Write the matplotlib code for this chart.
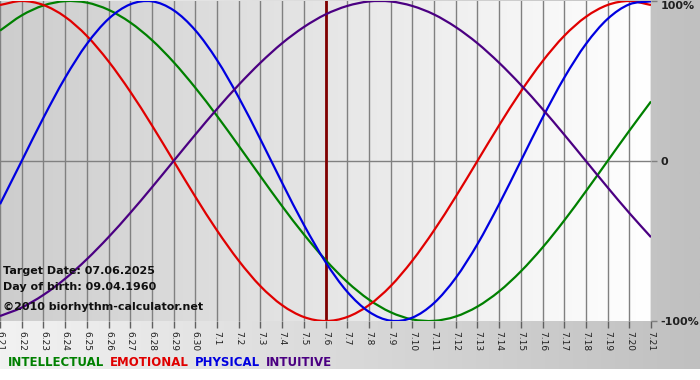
import matplotlib.pyplot as plt
import numpy as np
from matplotlib.colors import LinearSegmentedColormap
from matplotlib.path import Path
from matplotlib.patches import PathPatch

# day labels (month.day), 30 days around the target date
days = ['6.21', '6.22', '6.23', '6.24', '6.25', '6.26', '6.27', '6.28', '6.29', '6.30',
        '7.1', '7.2', '7.3', '7.4', '7.5', '7.6', '7.7', '7.8', '7.9', '7.10',
        '7.11', '7.12', '7.13', '7.14', '7.15', '7.16', '7.17', '7.18', '7.19', '7.20', '7.21']
target_day = '7.6'

# cycle values per day (-1 .. 1)
intellectual = [0.815, 0.910, 0.972, 0.999, 0.990, 0.945, 0.866, 0.756, 0.618, 0.458,
                0.282, 0.095, -0.095, -0.282, -0.458, -0.618, -0.756, -0.866, -0.945,
                -0.990, -0.999, -0.972, -0.910, -0.815, -0.690, -0.541, -0.372, -0.189,
                0.000, 0.189, 0.372]
emotional = [0.975, 1.000, 0.975, 0.901, 0.782, 0.623, 0.434, 0.223, 0.000, -0.223,
             -0.434, -0.623, -0.782, -0.901, -0.975, -1.000, -0.975, -0.901, -0.782,
             -0.623, -0.434, -0.223, 0.000, 0.223, 0.434, 0.623, 0.782, 0.901, 0.975,
             1.000, 0.975]
physical = [-0.270, 0.000, 0.270, 0.520, 0.731, 0.888, 0.979, 0.998, 0.942, 0.817,
            0.631, 0.398, 0.136, -0.136, -0.398, -0.631, -0.817, -0.942, -0.998, -0.979,
            -0.888, -0.731, -0.520, -0.270, 0.000, 0.270, 0.520, 0.731, 0.888, 0.979, 0.998]
intuitive = [-0.969, -0.916, -0.837, -0.736, -0.614, -0.476, -0.325, -0.165, 0.000,
             0.165, 0.325, 0.476, 0.614, 0.736, 0.837, 0.916, 0.969, 0.997, 0.997, 0.969,
             0.916, 0.837, 0.736, 0.614, 0.476, 0.325, 0.165, 0.000, -0.165, -0.325, -0.476]

series = [('INTELLECTUAL', intellectual, '#008000'),
          ('EMOTIONAL', emotional, '#e00000'),
          ('PHYSICAL', physical, '#0000e0'),
          ('INTUITIVE', intuitive, '#4b0082')]


def smooth_path(xs, ys):
    # catmull-rom style bezier through the daily points
    p = np.column_stack([xs, ys]).astype(float)
    pp = np.vstack([2 * p[0] - p[1], p, 2 * p[-1] - p[-2]])
    verts = [p[0]]
    codes = [Path.MOVETO]
    for i in range(1, len(pp) - 2):
        c1 = pp[i] + (pp[i + 1] - pp[i - 1]) / 6
        c2 = pp[i + 1] - (pp[i + 2] - pp[i]) / 6
        verts += [c1, c2, pp[i + 1]]
        codes += [Path.CURVE4] * 3
    return Path(verts, codes)


W, H = 700, 380
fig = plt.figure(figsize=(7, 3.8), dpi=100, facecolor='white')

# outer gray gradient background
bg = fig.add_axes([0, 11 / H, 1, 1 - 11 / H])
bg.imshow(np.linspace(0, 1, 256)[None, :], cmap=LinearSegmentedColormap.from_list('g', ['#f2f2f2', '#c0c0c0']),
          aspect='auto', extent=[0, 1, 0, 1])
bg.set_axis_off()

ax = fig.add_axes([0, 59 / H, 651 / W, 320 / H])
x = np.arange(len(days))
ax.set_xlim(0, len(days) - 1)
ax.set_ylim(-1.0, 1.0)
ax.imshow(np.linspace(0, 1, 256)[None, :], cmap=LinearSegmentedColormap.from_list('p', ['#cdcdcd', '#ffffff']),
          aspect='auto', extent=[0, len(days) - 1, -1, 1], zorder=0)

for xi in x:
    ax.axvline(xi, color='#808080', lw=1, zorder=1)
ax.axhline(0, color='#808080', lw=1, zorder=1)

for name, vals, col in series:
    ax.add_patch(PathPatch(smooth_path(x, vals), fill=False, edgecolor=col, lw=1.6, zorder=3))

ax.axvline(days.index(target_day), color='#800000', lw=2, zorder=2)

for s in ax.spines.values():
    s.set_visible(False)
ax.set_xticks(x)
ax.set_xticklabels(days, rotation=-90, fontsize=6.5, color='#202020')
ax.tick_params(axis='x', length=5, width=1, color='#606060', pad=2)
ax.yaxis.tick_right()
ax.set_yticks([-1, 0, 1])
ax.set_yticklabels(['-100%', '0', '100%'], fontsize=8, fontweight='bold', color='#202020')
ax.tick_params(axis='y', length=4, width=1, color='#808080', pad=3)
ax.get_yticklabels()[2].set_va('top')

txt = dict(fontsize=8, fontweight='bold', color='#101010', transform=ax.transAxes, zorder=4)
ax.text(3 / 651, (321 - 271) / 320, 'Target Date: 07.06.2025', va='center', **txt)
ax.text(3 / 651, (321 - 287) / 320, 'Day of birth: 09.04.1960', va='center', **txt)
ax.text(3 / 651, (321 - 307) / 320, '\u00a92010 biorhythm-calculator.net', va='center', **txt)

xpos = 8
for name, vals, col in series:
    t = fig.text(xpos / W, 1 - 362 / H, name, color=col, fontsize=8.5, fontweight='bold', va='center')
    fig.canvas.draw()
    bb = t.get_window_extent()
    xpos = bb.x1 + 6

fig.savefig('out.png', dpi=100, facecolor='white')
